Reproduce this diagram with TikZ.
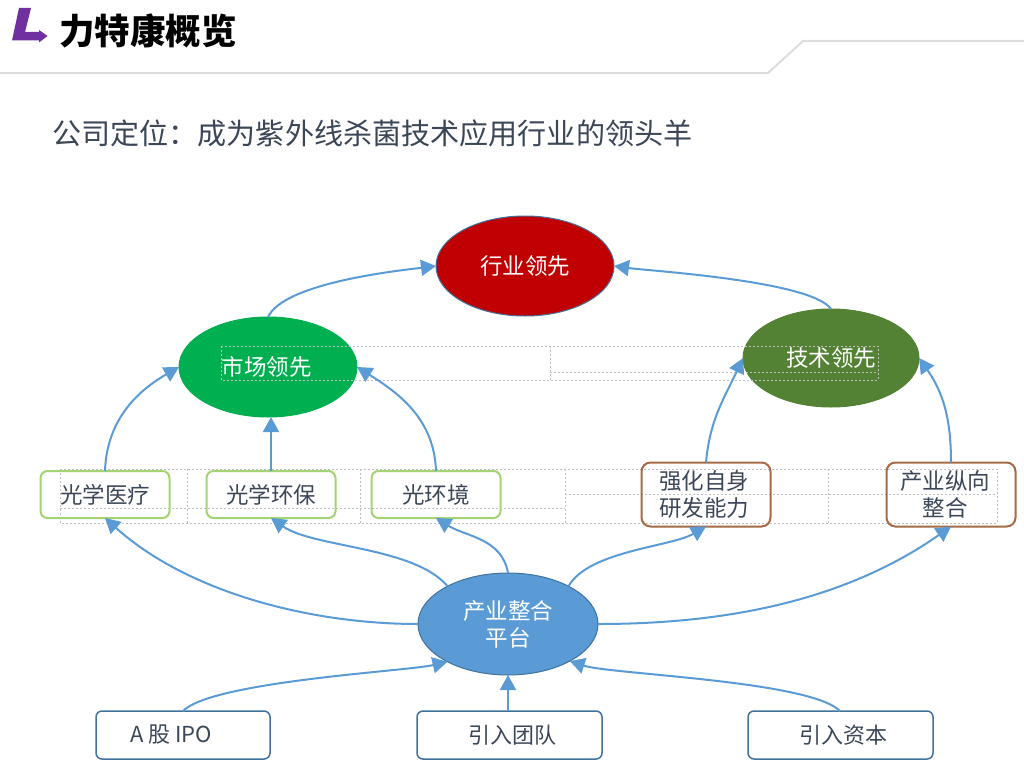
\documentclass[tikz,border=0pt]{standalone}
\usepackage{fontspec}
\setmainfont{Noto Sans CJK SC}
\usetikzlibrary{positioning,shapes.geometric,arrows.meta}
\definecolor{linkblue}{HTML}{5B9BD5}
\definecolor{rimblue}{HTML}{41719C}
\definecolor{headgrey}{HTML}{DDDDDD}
\definecolor{gridgrey}{HTML}{BFBFBF}
\definecolor{inkgrey}{HTML}{3B4657}
\definecolor{leadred}{HTML}{C00000}
\definecolor{mktgreen}{HTML}{00B050}
\definecolor{techgreen}{HTML}{548235}
\definecolor{boxgreen}{HTML}{A3D373}
\definecolor{boxbrown}{HTML}{A56B45}
\definecolor{logoviolet}{HTML}{7030A0}

\begin{document}
\begin{tikzpicture}[
  x=1pt, y=1pt,
  oval/.style={ellipse, draw=rimblue, line width=1pt, text=white, align=center, inner sep=0pt, outer sep=0pt, font=\fontsize{22.5}{27}\selectfont},
  gbox/.style={draw=boxgreen, rounded corners=7pt, line width=2pt, text=inkgrey, minimum width=129pt, minimum height=47pt, outer sep=0pt, inner sep=0pt, font=\fontsize{22.5}{27}\selectfont},
  bbox/.style={draw=boxbrown, rounded corners=9pt, line width=2pt, text=inkgrey, align=center, minimum width=129pt, minimum height=64pt, outer sep=0pt, inner sep=0pt, font=\fontsize{22.5}{27}\selectfont},
  base/.style={draw=rimblue, rounded corners=6pt, line width=1.5pt, text=inkgrey, minimum height=48pt, outer sep=0pt, inner sep=0pt, font=\fontsize{22}{27}\selectfont},
  arr/.style={-{Triangle[length=15pt,width=16pt]}, line width=2pt, draw=linkblue},
  grid/.style={draw=gridgrey, line width=1pt, dash pattern=on 2pt off 2pt}
]
\useasboundingbox (0,0) rectangle (1024,-768);

% header
\draw[headgrey, line width=2pt] (0,-73) -- (768,-73) -- (803,-41) -- (1024,-41);
\fill[logoviolet] (19,-8) -- (31,-8) -- (25,-32) -- (39,-32) -- (39,-30) -- (47.5,-36) -- (39,-42.5) -- (39,-40.5) -- (12,-40.5) -- cycle;
\node[anchor=west, inner sep=0pt, font=\fontsize{35.5}{40}\selectfont\bfseries] (title) at (59,-31) {力特康概览};
\node[anchor=west, inner sep=0pt, text=inkgrey, font=\fontsize{29.1}{34}\selectfont] (sub) at (52,-133) {公司定位：成为紫外线杀菌技术应用行业的领头羊};

% ovals
\node[oval, fill=leadred, minimum width=178pt, minimum height=100pt] (lead) at (525,-266) {行业领先};
\node[oval, fill=mktgreen, draw=mktgreen, minimum width=178pt, minimum height=100pt] (mkt) at (268,-367) {\hspace*{-3pt}市场领先};
\node[oval, fill=techgreen, draw=techgreen, minimum width=176pt, minimum height=98pt] (tech) at (831,-358) {技术领先};
\node[oval, fill=linkblue, minimum width=180pt, minimum height=102pt] (plat) at (508,-624) {产业整合\\平台};

% grid over the ovals
\draw[grid] (221,-346) rectangle (878,-380);
\draw[grid] (550,-346) -- (550,-380);
\draw[grid] (550,-372) -- (878,-372);
\draw[grid] (60,-469) rectangle (997,-523);
\foreach \xa in {187,360,565,828}
  \draw[grid] (\xa,-469) -- (\xa,-523);
\draw[grid] (60,-508) -- (565,-508);
\draw[grid] (565,-494) -- (997,-494);

% middle row
\node[gbox] (med) at (105,-494.5) {光学医疗};
\node[gbox, right=37pt of med] (env) {光学环保};
\node[gbox, right=36pt of env] (light) {光环境};
\node[bbox, right=141pt of light] (rd) {\hspace*{-4pt}强化自身\\\hspace*{-4pt}研发能力};
\node[bbox, right=116pt of rd] (chain) {\hspace*{-12pt}产业纵向\\\hspace*{-12pt}整合};

% bottom row
\node[base, minimum width=185pt, below=36pt of plat, xshift=1.5pt] (team) {\raisebox{-2pt}{\hspace*{5pt}引入团队}};
\node[base, minimum width=174pt, left=147pt of team] (ipo) {\raisebox{-2pt}{A 股 IPO\hspace*{24pt}}};
\node[base, minimum width=185pt, right=146pt of team] (cap) {\raisebox{-2pt}{\hspace*{5pt}引入资本}};

% links
\draw[arr] (mkt.north) to[out=65, in=187, looseness=.55] (lead.west);
\draw[arr] (tech.north) to[out=125, in=-8, looseness=.4] (lead.east);
\draw[arr] (med.north) to[out=88, in=210] (mkt.west);
\draw[arr] (env.north) -- (env.north |- mkt.south);
\draw[arr] (light.north) to[out=92, in=-32] (mkt.east);
\draw[arr] (rd.north) to[out=85, in=245] (tech.west);
\draw[arr] (chain.north) to[out=90, in=-55] (tech.east);
\draw[arr] (plat.west) to[out=180, in=-42, looseness=.85] (med.south);
\draw[arr] (plat.148) to[out=130, in=-35, looseness=.7] (env.south);
\draw[arr] (plat.north) to[out=100, in=-32] (light.south);
\draw[arr] (plat.32) to[out=60, in=210, looseness=.7] (rd.south);
\draw[arr] (plat.east) to[out=0, in=215, looseness=.9] (chain.south);
\draw[arr] (ipo.north -| 183,0) to[out=45, in=193, looseness=.4] (plat.212);
\draw[arr] (team.north -| plat.south) -- (plat.south);
\draw[arr] (cap.north -| 840,0) to[out=135, in=-18, looseness=.4] (plat.329);
\end{tikzpicture}
\end{document}
